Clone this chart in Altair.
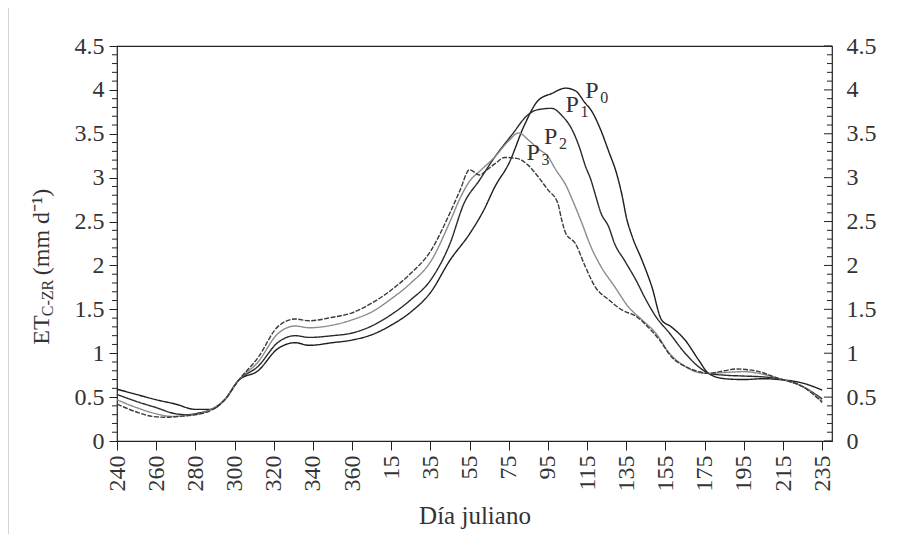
import altair as alt
import pandas as pd

# ---- data (Julian day, ET mm/d) ----
p0_day = [240,250,260,270,280,288,295,302,312,322,331,338,350,360,5,15,25,35,45,55,62,68,75,83,90,97,104,109,114,117,122,126,130,133,135,138,143,148,153,158,165,172,177,185,195,205,213,225,235]
p0_et = [0.59,0.53,0.47,0.42,0.36,0.36,0.47,0.69,0.80,1.05,1.12,1.09,1.12,1.15,1.21,1.32,1.47,1.69,2.06,2.36,2.62,2.90,3.16,3.60,3.88,3.96,4.02,3.99,3.85,3.77,3.54,3.30,3.05,2.78,2.55,2.33,2.06,1.76,1.38,1.30,1.15,0.92,0.77,0.71,0.70,0.71,0.70,0.66,0.58]

p1_day = [240,250,260,270,276,282,288,295,302,312,322,331,338,350,360,5,15,25,35,45,52,60,68,77,84,89,97,102,107,111,114,117,119,122,126,129,134,140,145,150,157,165,174,177,185,195,205,213,225,235]
p1_et = [0.53,0.45,0.38,0.31,0.30,0.32,0.36,0.47,0.69,0.85,1.12,1.20,1.18,1.20,1.23,1.31,1.44,1.61,1.83,2.25,2.70,2.97,3.24,3.50,3.70,3.77,3.79,3.71,3.56,3.35,3.14,2.97,2.82,2.60,2.44,2.25,2.06,1.83,1.61,1.42,1.23,1.00,0.81,0.77,0.75,0.74,0.73,0.71,0.62,0.48]

p2_day = [240,250,260,268,275,280,288,295,302,312,322,331,338,350,360,5,15,25,35,45,50,55,60,68,75,80,85,90,95,99,104,108,112,117,122,129,136,143,150,157,165,172,177,185,195,205,213,225,235]
p2_et = [0.47,0.38,0.31,0.28,0.29,0.30,0.36,0.47,0.69,0.90,1.22,1.31,1.29,1.32,1.38,1.47,1.62,1.80,2.04,2.50,2.76,2.96,3.07,3.24,3.42,3.51,3.43,3.33,3.24,3.09,2.92,2.72,2.50,2.21,1.99,1.76,1.53,1.38,1.23,1.00,0.85,0.78,0.77,0.78,0.79,0.76,0.71,0.62,0.46]

p3_day = [240,250,258,265,272,280,288,295,302,312,322,331,338,350,360,5,15,25,35,45,50,55,60,64,68,73,79,85,90,95,100,102,104,109,114,119,126,133,140,146,152,158,165,172,177,185,191,201,213,225,235]
p3_et = [0.42,0.33,0.28,0.27,0.28,0.30,0.35,0.47,0.69,0.95,1.30,1.39,1.37,1.41,1.46,1.57,1.72,1.91,2.16,2.60,2.85,3.09,3.03,3.09,3.16,3.23,3.22,3.14,3.01,2.86,2.71,2.52,2.37,2.25,1.99,1.76,1.61,1.49,1.42,1.30,1.15,0.96,0.85,0.79,0.77,0.80,0.82,0.80,0.71,0.62,0.44]

series_names = ["P0", "P1", "P2", "P3"]
label_sub = ["0", "1", "2", "3"]
label_day = [114, 104, 93, 84]
label_et = [3.99, 3.83, 3.46, 3.28]

x_tick_pos = list(range(0, 361, 20))
y_major = [0, 0.5, 1, 1.5, 2, 2.5, 3, 3.5, 4, 4.5]
y_minor = [round(i * 0.1, 1) for i in range(46) if i % 5 != 0]


def pos(d):
    # days since Julian day 240, wrapping over the year end
    return d - 240 if d >= 240 else d + 125


rows = []
for name, days, vals in zip(series_names, [p0_day, p1_day, p2_day, p3_day], [p0_et, p1_et, p2_et, p3_et]):
    for d, v in zip(days, vals):
        rows.append({"serie": name, "x": pos(d), "et": v})
df = pd.DataFrame(rows)

lab = pd.DataFrame({"serie": series_names, "sub": label_sub,
                    "x": [pos(d) for d in label_day], "et": label_et, "P": ["P"] * 4})

minor_df = pd.DataFrame({"v": y_minor})
major_df = pd.DataFrame({"v": y_major})

FONT = "Liberation Serif"
TXT = "#333333"
W, H = 715, 395

xs = alt.Scale(domain=[0, 365], nice=False, zero=False)
ys = alt.Scale(domain=[0, 4.5], nice=False)

xaxis = alt.Axis(values=x_tick_pos,
                 labelExpr="datum.value <= 125 ? datum.value + 240 : datum.value - 125",
                 labelAngle=270, tickSize=9, labelPadding=5, domain=False, grid=False,
                 tickColor="#222", labelFont=FONT, labelFontSize=24, labelColor=TXT,
                 title="Día juliano", titleFont=FONT, titleFontSize=25, titleFontWeight="normal",
                 titleColor=TXT, titlePadding=12)

yaxis_left = alt.Axis(values=y_major, format="~g", tickSize=8, labelPadding=5, domain=False,
                      grid=False, tickColor="#222", labelFont=FONT, labelFontSize=24,
                      labelColor=TXT, title=None)

lines = alt.Chart(df).mark_line(strokeWidth=1.4, interpolate="monotone").encode(
    x=alt.X("x:Q", scale=xs, axis=xaxis),
    y=alt.Y("et:Q", scale=ys, axis=yaxis_left),
    color=alt.Color("serie:N", scale=alt.Scale(domain=series_names,
                                               range=["#1e1e1e", "#2a2a2a", "#8c8c8c", "#3a3a3a"]),
                    legend=None),
    strokeDash=alt.StrokeDash("serie:N", scale=alt.Scale(domain=series_names,
                                                         range=[[1, 0], [1, 0], [1, 0], [5, 1.5]]),
                              legend=None),
    detail="serie:N",
)

p_text = alt.Chart(lab).mark_text(align="left", baseline="middle", font=FONT, fontSize=24,
                                  color=TXT).encode(
    x=alt.X("x:Q", scale=xs, axis=None),
    y=alt.Y("et:Q", scale=ys, axis=None),
    text="P:N",
)
sub_text = alt.Chart(lab).mark_text(align="left", baseline="middle", font=FONT, fontSize=16,
                                    color=TXT, dx=15, dy=7).encode(
    x=alt.X("x:Q", scale=xs, axis=None),
    y=alt.Y("et:Q", scale=ys, axis=None),
    text="sub:N",
)

# minor ticks (outside on the left, inside on the right) and inner major ticks on the right
def tick_rules(data, x1, x2, axis=None):
    return alt.Chart(data).mark_rule(color="#222", strokeWidth=1).encode(
        y=alt.Y("v:Q", scale=ys, axis=axis), x=alt.value(x1), x2=alt.value(x2))

left_minor = tick_rules(minor_df, -5, 0)
right_minor = tick_rules(minor_df, W - 5, W)
right_major = tick_rules(major_df, W - 8, W,
                         axis=alt.Axis(orient="right", values=y_major, format="~g", ticks=False,
                                       labelPadding=14, domain=False, grid=False, labelFont=FONT,
                                       labelFontSize=24, labelColor=TXT, title=None))

# y-axis title built from pieces (subscript / superscript)
def ytxt(t, y, x, size):
    return alt.Chart(pd.DataFrame({"t": [t]})).mark_text(
        angle=270, align="center", baseline="middle", font=FONT, fontSize=size, color=TXT
    ).encode(text="t:N", x=alt.value(x), y=alt.value(y))

title_et = ytxt("ET", 284, -75, 24)
title_sub = ytxt("C-ZR", 252, -69, 16)
title_unit = ytxt("(mm d\u207b\u00b9)", 186, -75, 24)

frame = alt.Chart(pd.DataFrame({"a": [0]})).mark_rule(color="#d4d4d4", strokeWidth=1).encode(
    x=alt.value(-108.5), y=alt.value(-38), y2=alt.value(H + 93)
)

chart = alt.layer(
    lines, p_text, sub_text, left_minor, right_minor, right_major,
    title_et, title_sub, title_unit, frame
).resolve_axis(x="independent", y="independent").properties(
    width=W, height=H,
    background="white",
    autosize=alt.AutoSizeParams(type="none"),
    padding={"left": 109, "top": 38, "right": 57, "bottom": 93},
).configure_view(stroke="#222", strokeWidth=1.2)

chart.save("out.html", embed_options={"renderer": "svg", "actions": False})
